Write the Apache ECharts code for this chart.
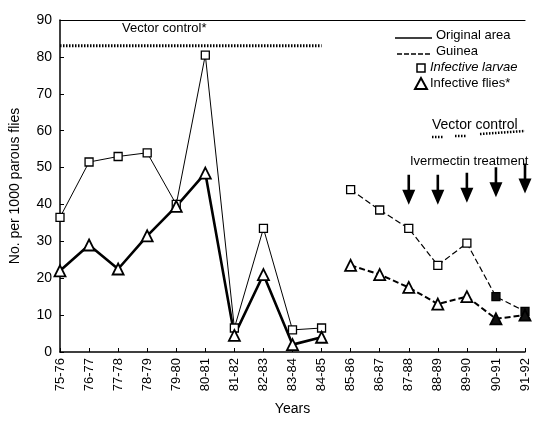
<!DOCTYPE html>
<html><head><meta charset="utf-8">
<script src="https://cdn.jsdelivr.net/npm/echarts@6/dist/echarts.min.js"></script>
<style>html,body{margin:0;padding:0;background:#fff}#c{width:534px;height:437px}</style>
</head><body><div id="c"></div>
<script>
var categories = ['75-76','76-77','77-78','78-79','79-80','80-81','81-82','82-83','83-84','84-85','85-86','86-87','87-88','88-89','89-90','90-91','91-92'];
var origLarvae = [36.5, 51.5, 53, 54, 40, 80.5, 6.5, 33.5, 6, 6.5];
var origFlies  = [22, 29, 22.5, 31.5, 39.5, 48.5, 4.5, 21, 2, 4];
var guineaLarvae = [44, 38.5, 33.5, 23.5, 29.5, 15, 11];
var guineaFlies  = [23.5, 21, 17.5, 13, 15, 9, 10];
var vectorLevel = 83;
var vectorYears = 10;
var arrowYears = ['87-88','88-89','89-90','90-91','91-92'];
var arrowLevels = [44, 44, 44.5, 46, 47];
var yTicks = [0,10,20,30,40,50,60,70,80,90];

var FONT = '"Liberation Sans", Arial, Helvetica, sans-serif';
function pad(arr, before, total){ var r=[]; for(var i=0;i<total;i++){ var j=i-before; r.push(j>=0&&j<arr.length?arr[j]:'-'); } return r; }
var n = categories.length;
var sq = {symbol:'rect', symbolSize:8, itemStyle:{color:'#fff', borderColor:'#000', borderWidth:1.3}};
var tri = {symbol:'triangle', symbolSize:11, itemStyle:{color:'#fff', borderColor:'#000', borderWidth:1.8}};
function darkLast(arr, k){ return arr.map(function(v,i){ return (i>=k && v!=='-') ? {value:v, itemStyle:{color:'#111'}} : v; }); }
var vecData = []; for (var i=0;i<n;i++) vecData.push(i<vectorYears?vectorLevel:'-');
var arrowPath = 'path://M4,0 L6,0 L6,13 L10,13 L5,26 L0,13 L4,13 Z';

var chart = echarts.init(document.getElementById('c'));
chart.setOption({
  animation:false,
  grid:{left:60, right:9, top:20, bottom:85},
  xAxis:[{
    type:'category', data:categories, boundaryGap:false,
    axisLine:{lineStyle:{color:'#000', width:1.5}},
    axisTick:{inside:true, length:4, lineStyle:{color:'#000'}},
    axisLabel:{rotate:90, color:'#000', fontFamily:FONT, fontSize:13, margin:6, interval:0},
    name:'Years', nameLocation:'middle', nameGap:50,
    nameTextStyle:{color:'#000', fontFamily:FONT, fontSize:14}
  },{
    type:'category', data:categories, boundaryGap:false, position:'top',
    axisLine:{lineStyle:{color:'#000', width:1.2}}, axisTick:{show:false}, axisLabel:{show:false}
  }],
  yAxis:{
    type:'value', min:0, max:90, interval:10,
    axisLine:{show:true, lineStyle:{color:'#000', width:1.5}},
    axisTick:{show:true, inside:true, length:4, lineStyle:{color:'#000'}},
    splitLine:{show:false},
    axisLabel:{color:'#000', fontFamily:FONT, fontSize:14, margin:8,
      formatter:function(v){ return yTicks.indexOf(v)>=0 ? String(v) : ''; }},
    name:'No. per 1000 parous flies', nameLocation:'middle', nameGap:38,
    nameTextStyle:{color:'#000', fontFamily:FONT, fontSize:14}
  },
  series:[
    {type:'line', name:'vector', data:vecData, symbol:'none', silent:true,
      lineStyle:{color:'#000', width:3, type:[1.5,1.5]}},
    Object.assign({type:'line', name:'Original larvae', data:pad(origLarvae,0,n),
      lineStyle:{color:'#000', width:1}}, sq),
    Object.assign({type:'line', name:'Original flies', data:pad(origFlies,0,n),
      lineStyle:{color:'#000', width:2.6}}, tri),
    Object.assign({type:'line', name:'Guinea larvae', data:darkLast(pad(guineaLarvae,10,n),15),
      lineStyle:{color:'#000', width:1.2, type:[6,3]},
      markPoint:{symbol:arrowPath, symbolSize:[13,30], symbolKeepAspect:false, silent:true,
        itemStyle:{color:'#000'}, label:{show:false},
        data:arrowYears.map(function(c,i){ return {coord:[c, arrowLevels[i]]}; })}}, sq),
    Object.assign({type:'line', name:'Guinea flies', data:darkLast(pad(guineaFlies,10,n),15),
      lineStyle:{color:'#000', width:2, type:[6,3]}}, tri)
  ],
  graphic:[
    {type:'text', left:122, top:22, style:{text:'Vector control*', font:'13px '+FONT, fill:'#000'}},
    {type:'line', shape:{x1:395,y1:38,x2:432,y2:38}, style:{stroke:'#000', lineWidth:1.5}},
    {type:'text', left:436, top:29, style:{text:'Original area', font:'13px '+FONT, fill:'#000'}},
    {type:'line', shape:{x1:397,y1:54,x2:432,y2:54}, style:{stroke:'#000', lineWidth:1.5, lineDash:[5,2]}},
    {type:'text', left:436, top:45, style:{text:'Guinea', font:'13px '+FONT, fill:'#000'}},
    {type:'rect', shape:{x:417,y:64,width:8,height:8}, style:{fill:'#fff', stroke:'#000', lineWidth:1.5}},
    {type:'text', left:430, top:61, style:{text:'Infective larvae', font:'italic 13px '+FONT, fill:'#000'}},
    {type:'polygon', shape:{points:[[421,78],[415,89],[427,89]]}, style:{fill:'#fff', stroke:'#000', lineWidth:2}},
    {type:'text', left:430, top:77, style:{text:'Infective flies*', font:'13px '+FONT, fill:'#000'}},
    {type:'text', left:432, top:118, style:{text:'Vector control', font:'14px '+FONT, fill:'#000'}},
    {type:'line', shape:{x1:432,y1:137,x2:443,y2:137}, style:{stroke:'#000', lineWidth:2.5, lineDash:[1.5,1.5]}},
    {type:'line', shape:{x1:455,y1:136,x2:466,y2:136}, style:{stroke:'#000', lineWidth:2.5, lineDash:[1.5,1.5]}},
    {type:'line', shape:{x1:480,y1:134,x2:525,y2:131}, style:{stroke:'#000', lineWidth:2.5, lineDash:[1.5,1.5]}},
    {type:'text', left:410, top:155, style:{text:'Ivermectin treatment', font:'13px '+FONT, fill:'#000'}}
  ]
});
</script></body></html>
